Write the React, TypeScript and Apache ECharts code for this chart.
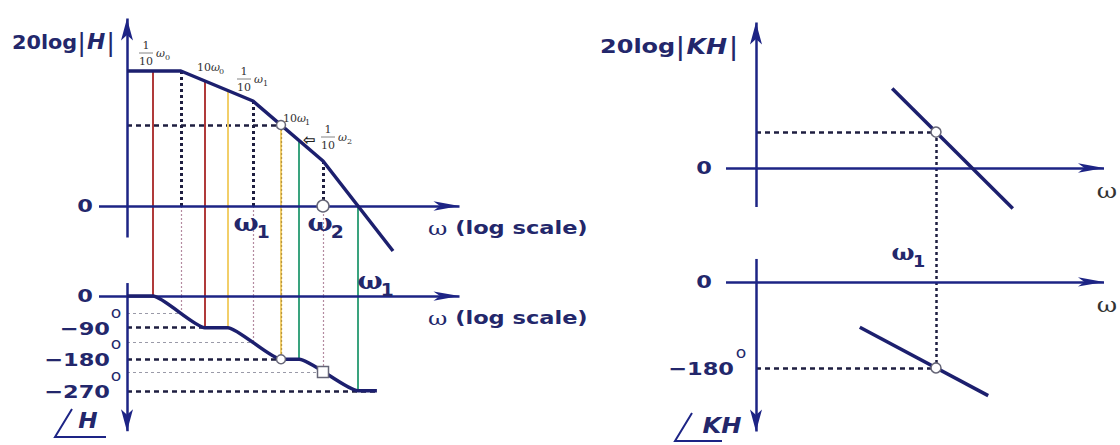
import { useEffect, useRef } from 'react';
import * as echarts from 'echarts';

// ---------- Left Bode plot: x = decades measured from the vertical axis ----------
const CORNER_FREQS = [0.77, 1.8, 2.8]; // ω0, ω1, ω2
const MAG_ASYMPTOTE: number[][] = [
  [0, 90], [0.77, 90], [1.8, 70], [2.8, 30], [3.3, 0], [3.8, -30],
];
const RED_MARKS = [0.37, 1.11];    // ω0/10, 10ω0
const YELLOW_MARKS = [1.44, 2.2];  // ω1/10, 10ω1
const GREEN_MARKS = [2.46, 3.3];   // ω2/10, 0 dB crossing
const PHASE_END = 3.57;
const PHASE_LEVELS = [-90, -180, -270];
const PHASE_CURVE: number[][] = [
  [0, 0], [RED_MARKS[0], 0], [RED_MARKS[1], -90], [YELLOW_MARKS[0], -90],
  [YELLOW_MARKS[1], -180], [GREEN_MARKS[0], -180], [GREEN_MARKS[1], -270], [PHASE_END, -270],
];
const MAG_TICK_LABELS = ['0'];
const PHASE_TICK_VALUES = [0, -90, -180, -270];
const PHASE_TICK_LABELS = ['0', '\u221290', '\u2212180', '\u2212270'];

// ---------- Right plot: loop gain KH around ω1 ----------
const KH_OMEGA1 = 3;
const KH_MAG: number[][] = [[2.27, 53], [4.28, -27]];
const KH_PHASE: number[][] = [[1.73, -95], [3.87, -238]];
const KH_PHASE_AT_OMEGA1 = -180;
const KH_PHASE_TICK_LABELS = ['0', '\u2212180'];

// ---------- styling ----------
const AXIS = '#1d2485';
const CURVE = '#1c1f6e';
const TEXT = '#23276b';
const RED = '#b03a3a';
const YELLOW = '#f2cf6a';
const GREEN = '#3aa37e';
const PINK = '#b48aa0';
const GREY = '#9a9aa8';
const DARK = '#1e1e40';
const SANS = "'DejaVu Sans', sans-serif";
const SERIF = "'DejaVu Serif', serif";
const MAG_FLOOR = -60; // bottom of the left magnitude grid (same height as the 0° line)
const KH_MAG_FLOOR = -60;
const KH_PHASE_TOP = 50;
const WIDE = 1.25; // horizontal stretch of the bold labels

function valueAt(curve: number[][], x: number): number {
  for (let i = 1; i < curve.length; i++) {
    const [x0, y0] = curve[i - 1];
    const [x1, y1] = curve[i];
    if (x >= x0 && x <= x1) return y0 + ((y1 - y0) * (x - x0)) / (x1 - x0);
  }
  return curve[curve.length - 1][1];
}
const magAt = (x: number) => valueAt(MAG_ASYMPTOTE, x);
const phaseAt = (x: number) => valueAt(PHASE_CURVE, x);
const khMagAt = (x: number) => valueAt(KH_MAG, x);

function seg(g: number, pairs: number[][][], style: any, extra: any = {}) {
  return {
    type: 'lines', coordinateSystem: 'cartesian2d', xAxisIndex: g, yAxisIndex: g,
    silent: true, clip: false, symbol: 'none', polyline: false,
    lineStyle: { opacity: 1, curveness: 0, cap: 'butt', ...style },
    data: pairs.map((coords) => ({ coords })),
    ...extra,
  };
}
function axisArrow(g: number, pairs: number[][][], size: number[]) {
  return seg(g, pairs, { color: AXIS, width: 2.5 }, { symbol: ['none', 'arrow'], symbolSize: [1, size], z: 3 });
}
function curve(g: number, data: number[][], extra: any = {}) {
  return {
    type: 'line', xAxisIndex: g, yAxisIndex: g, data, showSymbol: false, silent: true, clip: false,
    lineStyle: { color: CURVE, width: 3.5, join: 'round' }, z: 4, ...extra,
  };
}
function markers(g: number, data: number[][], symbol: string, size: number) {
  return {
    type: 'scatter', xAxisIndex: g, yAxisIndex: g, data, symbol, symbolSize: size, silent: true, clip: false,
    itemStyle: { color: '#ffffff', borderColor: '#666677', borderWidth: 1.5, opacity: 1 }, z: 6,
  };
}

function buildOption(): any {
  const series: any[] = [];
  // thin guides to the phase curve at the corner frequencies
  series.push(seg(1, CORNER_FREQS.map((w) => [[0, phaseAt(w)], [w, phaseAt(w)]]), { color: GREY, width: 1, type: [3, 3] }));
  series.push(seg(0, CORNER_FREQS.map((w) => [[w, 0], [w, MAG_FLOOR]]), { color: PINK, width: 1.2, type: [2, 2] }));
  series.push(seg(1, CORNER_FREQS.map((w) => [[w, 0], [w, phaseAt(w)]]), { color: PINK, width: 1.2, type: [2, 2] }));
  // thick dotted corner drops and dashed levels
  series.push(seg(0, CORNER_FREQS.map((w) => [[w, magAt(w)], [w, 0]]), { color: DARK, width: 3, type: [3, 3] }));
  series.push(seg(1, [
    [[0, PHASE_LEVELS[0]], [RED_MARKS[1], PHASE_LEVELS[0]]],
    [[0, PHASE_LEVELS[1]], [YELLOW_MARKS[1], PHASE_LEVELS[1]]],
    [[0, PHASE_LEVELS[2]], [PHASE_END, PHASE_LEVELS[2]]],
  ], { color: DARK, width: 2.5, type: [5, 4] }));
  const y1 = YELLOW_MARKS[1];
  series.push(seg(0, [[[0, magAt(y1)], [y1, magAt(y1)]]], { color: DARK, width: 2.5, type: [5, 4] }));
  // coloured decade markers, magnitude part then phase part
  [
    { xs: RED_MARKS, color: RED },
    { xs: YELLOW_MARKS, color: YELLOW },
    { xs: GREEN_MARKS, color: GREEN },
  ].forEach(({ xs, color }) => {
    series.push(seg(0, xs.map((x) => [[x, magAt(x)], [x, MAG_FLOOR]]), { color, width: 2 }));
    series.push(seg(1, xs.map((x) => [[x, 0], [x, phaseAt(x)]]), { color, width: 2 }));
  });
  series.push(seg(0, [[[y1, magAt(y1)], [y1, MAG_FLOOR]]], { color: '#b89640', width: 1.3, type: [2, 2] }));
  series.push(seg(1, [[[y1, 0], [y1, phaseAt(y1)]]], { color: '#b89640', width: 1.3, type: [2, 2] }));

  // right-hand guides
  const khM = khMagAt(KH_OMEGA1);
  series.push(seg(2, [[[0, khM], [KH_OMEGA1, khM]]], { color: DARK, width: 2.5, type: [5, 4] }));
  series.push(seg(3, [[[0, KH_PHASE_AT_OMEGA1], [KH_OMEGA1, KH_PHASE_AT_OMEGA1]]], { color: DARK, width: 2.5, type: [5, 4] }));
  series.push(seg(2, [[[KH_OMEGA1, khM], [KH_OMEGA1, KH_MAG_FLOOR]]], { color: DARK, width: 2.5, type: [3, 3] }));
  series.push(seg(3, [[[KH_OMEGA1, KH_PHASE_TOP], [KH_OMEGA1, KH_PHASE_AT_OMEGA1]]], { color: DARK, width: 2.5, type: [3, 3] }));

  // axes with arrow heads
  series.push(axisArrow(0, [[[0, -21], [0, 125]]], [9, 22]));
  series.push(axisArrow(0, [[[-0.4, 0], [4.75, 0]]], [7, 26]));
  series.push(axisArrow(1, [[[0, 37], [0, -385]]], [9, 22]));
  series.push(axisArrow(1, [[[-0.4, 0], [4.75, 0]]], [7, 26]));
  series.push(axisArrow(2, [[[0, -26], [0, 97]]], [9, 22]));
  series.push(axisArrow(2, [[[-0.5, 0], [5.8, 0]]], [7, 26]));
  series.push(axisArrow(3, [[[0, 48], [0, -313]]], [9, 22]));
  series.push(axisArrow(3, [[[-0.5, 0], [5.8, 0]]], [7, 26]));

  // curves
  series.push(curve(0, MAG_ASYMPTOTE));
  series.push(curve(1, PHASE_CURVE, { smooth: 0.18, smoothMonotone: 'x' }));
  series.push(curve(2, KH_MAG));
  series.push(curve(3, KH_PHASE));

  // marked points
  series.push(markers(0, [[y1, magAt(y1)]], 'circle', 9));
  series.push(markers(0, [[CORNER_FREQS[2], 0]], 'circle', 12));
  series.push(markers(1, [[y1, phaseAt(y1)]], 'circle', 9));
  series.push(markers(1, [[CORNER_FREQS[2], phaseAt(CORNER_FREQS[2])]], 'rect', 11));
  series.push(markers(2, [[KH_OMEGA1, khM]], 'circle', 10));
  series.push(markers(3, [[KH_OMEGA1, KH_PHASE_AT_OMEGA1]], 'circle', 10));

  return {
    animation: false,
    backgroundColor: '#ffffff',
    grid: [
      { left: 99, top: 8, width: 378, height: 288 },
      { left: 99, top: 282, width: 378, height: 158 },
      { left: 726, top: 18, width: 390, height: 240 },
      { left: 726, top: 258, width: 390, height: 186.4 },
    ],
    xAxis: [
      { gridIndex: 0, min: -0.4, max: 5 },
      { gridIndex: 1, min: -0.4, max: 5 },
      { gridIndex: 2, min: -0.5, max: 6 },
      { gridIndex: 3, min: -0.5, max: 6 },
    ].map((a) => ({ ...a, type: 'value', show: false })),
    yAxis: [
      { gridIndex: 0, min: MAG_FLOOR, max: 132 },
      { gridIndex: 1, min: -410, max: 40 },
      { gridIndex: 2, min: KH_MAG_FLOOR, max: 100 },
      { gridIndex: 3, min: -340, max: KH_PHASE_TOP },
    ].map((a) => ({ ...a, type: 'value', show: false })),
    series,
  };
}

function text(x: number, y: number, t: string, font: string, fill: string, align = 'left', vAlign = 'middle', extra: any = {}) {
  return {
    type: 'text', x, y, silent: true, z: 10,
    style: { text: t, font, fill, align, verticalAlign: vAlign, textAlign: align, textVerticalAlign: vAlign },
    ...extra,
  };
}
function richText(x: number, y: number, t: string, rich: any, align = 'left', extra: any = {}) {
  return {
    type: 'text', x, y, silent: true, z: 10,
    style: { text: t, rich, align, verticalAlign: 'middle', textAlign: align, textVerticalAlign: 'middle' },
    ...extra,
  };
}
function omega(x: number, y: number, sub: string, size: number) {
  return [
    text(x, y, '\u03c9', `bold ${size}px ${SERIF}`, TEXT, 'center', 'middle', { scaleX: 1.1 }),
    text(x + size * 0.45, y + size * 0.42, sub, `bold ${Math.round(size * 0.72)}px ${SANS}`, TEXT, 'left', 'middle', { scaleX: 1.1 }),
  ];
}
function fraction(cx: number, cy: number, sub: string) {
  const f = `11px ${SERIF}`;
  return [
    text(cx, cy - 8, '1', f, '#333', 'center'),
    { type: 'line', silent: true, z: 10, shape: { x1: cx - 7, y1: cy, x2: cx + 7, y2: cy }, style: { stroke: '#666', lineWidth: 0.8 } },
    text(cx, cy + 8, '10', f, '#333', 'center'),
    text(cx + 10, cy, '\u03c9', `italic 11px ${SERIF}`, '#333'),
    text(cx + 19, cy + 4, sub, `8px ${SERIF}`, '#333'),
  ];
}
function tenOmega(x: number, y: number, sub: string) {
  return [
    text(x, y, '10', `11px ${SERIF}`, '#333'),
    text(x + 14, y, '\u03c9', `italic 11px ${SERIF}`, '#333'),
    text(x + 22, y + 4, sub, `8px ${SERIF}`, '#333'),
  ];
}

function buildGraphics(chart: any): any[] {
  const px = (g: number, p: number[]) => chart.convertToPixel({ gridIndex: g }, p) as number[];
  const tickFont = `bold 18px ${SANS}`;
  const wide = { scaleX: WIDE };
  const ring = (x: number, y: number) => text(x, y, 'o', `15px ${SANS}`, TEXT, 'center', 'middle', { scaleX: 1.15 });
  const els: any[] = [];
  const titleRich = {
    n: { fontFamily: SANS, fontWeight: 'bold', fontSize: 20, fill: TEXT },
    b: { fontFamily: SANS, fontSize: 25, fill: TEXT },
    h: { fontFamily: SANS, fontWeight: 'bold', fontStyle: 'italic', fontSize: 21, fill: TEXT, padding: [0, 1, 0, 1] },
  };
  els.push(richText(12, 42, '{n|20log}{b||}{h|H}{b||}', titleRich, 'left', { scaleX: 1.04 }));
  els.push(richText(600, 46, '{n|20log}{b||}{h|KH}{b||}', titleRich, 'left', { scaleX: 1.2 }));

  // tick labels, placed at their axis values
  MAG_TICK_LABELS.forEach((lab) => {
    const [x, y] = px(0, [0, 0]);
    els.push(text(x - 34, y, lab, tickFont, TEXT, 'right', 'middle', wide));
  });
  PHASE_TICK_VALUES.forEach((v, i) => {
    const [x, y] = px(1, [0, v]);
    if (v === 0) {
      els.push(text(x - 34, y, PHASE_TICK_LABELS[i], tickFont, TEXT, 'right', 'middle', wide));
    } else {
      els.push(text(x - 17, y + 1, PHASE_TICK_LABELS[i], tickFont, TEXT, 'right', 'middle', wide));
      els.push(ring(x - 11, y - 15));
    }
  });
  {
    const [x, y] = px(2, [0, 0]);
    els.push(text(x - 44, y, KH_PHASE_TICK_LABELS[0], tickFont, TEXT, 'right', 'middle', wide));
    const [x2, y2] = px(3, [0, 0]);
    els.push(text(x2 - 44, y2, KH_PHASE_TICK_LABELS[0], tickFont, TEXT, 'right', 'middle', wide));
    const [x3, y3] = px(3, [0, KH_PHASE_AT_OMEGA1]);
    els.push(text(x3 - 22, y3 + 1, KH_PHASE_TICK_LABELS[1], tickFont, TEXT, 'right', 'middle', wide));
    els.push(ring(x3 - 15, y3 - 15));
  }

  // axis titles
  const axisRich = {
    w: { fontFamily: SERIF, fontSize: 19, fill: TEXT },
    t: { fontFamily: SANS, fontWeight: 'bold', fontSize: 18, fill: TEXT },
  };
  els.push(richText(428, 228, '{w|\u03c9}{t| (log scale)}', axisRich, 'left', wide));
  els.push(richText(428, 318, '{w|\u03c9}{t| (log scale)}', axisRich, 'left', wide));
  els.push(text(1107, 191, '\u03c9', `20px ${SERIF}`, '#333', 'center', 'middle', wide));
  els.push(text(1107, 305, '\u03c9', `20px ${SERIF}`, '#333', 'center', 'middle', wide));

  // angle symbols
  els.push({ type: 'polyline', silent: true, z: 10, shape: { points: [[72, 409], [55, 437], [106, 437]] }, style: { stroke: AXIS, lineWidth: 2, fill: null } });
  els.push(text(88, 421, 'H', `bold italic 21px ${SANS}`, TEXT, 'center', 'middle', { scaleX: 1.1 }));
  els.push({ type: 'polyline', silent: true, z: 10, shape: { points: [[692, 413], [675, 441], [722, 441]] }, style: { stroke: AXIS, lineWidth: 2, fill: null } });
  els.push(text(722, 426, 'KH', `bold italic 21px ${SANS}`, TEXT, 'center', 'middle', { scaleX: 1.15 }));

  // frequency names
  els.push(...omega(246, 222, '1', 24));
  els.push(...omega(320, 222, '2', 24));
  els.push(...omega(370, 280, '1', 24));
  els.push(...omega(903, 252, '1', 22));

  // decade annotations along the magnitude asymptote
  els.push(...fraction(146, 53, '0'));
  els.push(...tenOmega(197, 67, '0'));
  els.push(...fraction(244, 79, '1'));
  els.push(...tenOmega(283, 118, '1'));
  els.push(text(309, 140, '\u21e6', `bold 15px ${SANS}`, '#222', 'center'));
  els.push(...fraction(328, 137, '2'));
  return els;
}

export default function App() {
  const ref = useRef<HTMLDivElement>(null);
  useEffect(() => {
    const chart = echarts.init(ref.current!, null, { renderer: 'svg' });
    chart.setOption(buildOption());
    chart.setOption({ graphic: buildGraphics(chart) });
    return () => chart.dispose();
  }, []);
  return <div ref={ref} style={{ position: 'fixed', left: 0, top: 0, width: 1120, height: 445, background: '#fff' }} />;
}
